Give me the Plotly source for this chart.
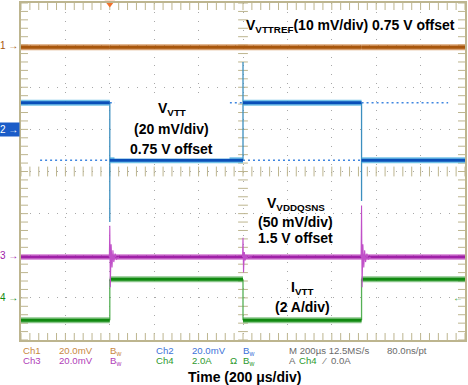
import numpy as np
import plotly.graph_objects as go

# ---- data (time in divisions of 200 us, amplitude in screen divisions) ----
seg_start = [0.0, 2.0, 5.0, 7.67]
seg_end = [2.0, 5.0, 7.67, 10.0]
edge_t = [2.0, 5.0, 7.67]

ch1_level = [2.95, 2.95, 2.95, 2.95]
ch2_level = [1.63, 0.27, 1.63, 0.27]
ch3_level = [-2.03, -2.03, -2.03, -2.03]
ch4_level = [-3.53, -2.56, -3.53, -2.56]

ch2_ref_start = [0.43, 2.0, 5.0, 7.67]
ch2_ref_end = [2.0, 5.0, 7.67, 9.62]
ch2_ref_level = [0.27, 1.63, 0.27, 1.63]

ch2_edge_top = [1.63, 2.6, 1.63]
ch2_edge_bot = [-1.2, 0.27, -0.7]
ch4_edge_top = [-2.56, -2.56, -2.56]
ch4_edge_bot = [-3.53, -3.53, -3.53]

ring_dt = [-0.01, 0.0, 0.012, 0.03, 0.05, 0.07, 0.09, 0.12, 0.15, 0.2]
ch3_ring = [
    [0, 0.74, -0.72, 0.30, -0.25, 0.16, -0.12, 0.08, -0.05, 0],
    [0, 0.46, -0.37, 0.12, -0.08, 0.05, -0.03, 0.02, 0.0, 0],
    [0, 1.22, -0.72, 0.30, -0.25, 0.16, -0.12, 0.08, -0.05, 0],
]

marker_level = [3.0, 1.0, -2.0, -3.0]
trigger_t = 2.0
trigger_level = -3.0

TAN = "#bdb58f"
ORANGE = "#a8560c"
BLUE = "#0a4fb8"
MAGENTA = "#a020a8"
GREEN = "#118a11"


def segments(starts, ends, levels):
    xs, ys = [], []
    for a, b, v in zip(starts, ends, levels):
        xs += [a, b, None]
        ys += [v, v, None]
    return xs, ys


def edges(ts, tops, bots):
    xs, ys = [], []
    for t, a, b in zip(ts, tops, bots):
        xs += [t, t, None]
        ys += [a, b, None]
    return xs, ys


fig = go.Figure()

# graticule tick rows
xm = np.round(np.arange(0, 10.0001, 0.2), 3)
ym = np.round(np.arange(-4, 4.0001, 0.2), 3)
tick = dict(color=TAN, line=dict(color=TAN, width=1))
fig.add_trace(go.Scatter(x=xm, y=[0] * len(xm), mode="markers",
                         marker=dict(symbol="line-ns", size=7, **tick), hoverinfo="skip"))
fig.add_trace(go.Scatter(x=[5] * len(ym), y=ym, mode="markers",
                         marker=dict(symbol="line-ew", size=7, **tick), hoverinfo="skip"))
for yy in (4, -4):
    fig.add_trace(go.Scatter(x=xm, y=[yy] * len(xm), mode="markers",
                             marker=dict(symbol="line-ns", size=10, **tick), hoverinfo="skip"))
for xx in (0, 10):
    fig.add_trace(go.Scatter(x=[xx] * len(ym), y=ym, mode="markers",
                             marker=dict(symbol="line-ew", size=10, **tick), hoverinfo="skip"))

# Ch2 dotted reference
rx, ry = segments(ch2_ref_start, ch2_ref_end, ch2_ref_level)
fig.add_trace(go.Scatter(x=rx, y=ry, mode="lines",
                         line=dict(color="#3f86e0", width=1.5, dash="2px,3px"), hoverinfo="skip"))


def add_channel(levels, color, fuzz):
    x, y = segments(seg_start, seg_end, levels)
    fig.add_trace(go.Scatter(x=x, y=y, mode="lines", line=dict(color=fuzz, width=6),
                             hoverinfo="skip"))
    fig.add_trace(go.Scatter(x=x, y=y, mode="lines", line=dict(color=color, width=3),
                             hoverinfo="skip"))


# Ch1
add_channel(ch1_level, ORANGE, "rgba(200,120,50,0.7)")

# Ch2
ex, ey = edges(edge_t, ch2_edge_top, ch2_edge_bot)
fig.add_trace(go.Scatter(x=ex, y=ey, mode="lines", line=dict(color="#3c8fbf", width=1.3),
                         hoverinfo="skip"))
add_channel(ch2_level, BLUE, "rgba(70,175,225,0.75)")

# Ch4
ex, ey = edges(edge_t, ch4_edge_top, ch4_edge_bot)
fig.add_trace(go.Scatter(x=ex, y=ey, mode="lines", line=dict(color="#55b055", width=1.3),
                         hoverinfo="skip"))
add_channel(ch4_level, GREEN, "rgba(60,160,60,0.6)")

# Ch3
add_channel(ch3_level, MAGENTA, "rgba(200,90,200,0.6)")
rxs, rys = [], []
for t, ring in zip(edge_t, ch3_ring):
    rxs += [t + d for d in ring_dt] + [None]
    rys += [ch3_level[0] + r for r in ring] + [None]
fig.add_trace(go.Scatter(x=rxs, y=rys, mode="lines", line=dict(color="#c050c8", width=1.1),
                         hoverinfo="skip"))

# trigger marker at top
fig.add_trace(go.Scatter(x=[trigger_t], y=[4], mode="markers", cliponaxis=False,
                         marker=dict(symbol="triangle-down", size=9, color="#f2712a"),
                         hoverinfo="skip"))

ann = []
BOLD = "Liberation Sans, Arial, sans-serif"


def txt(x, y, s, size=14, color="black", xanchor="center", xref="x", yref="y", **kw):
    ann.append(dict(x=x, y=y, xref=xref, yref=yref, text=s, showarrow=False,
                    xanchor=xanchor, yanchor="middle",
                    font=dict(family=BOLD, size=size, color=color), **kw))


# white box under V_VTT label
ann.append(dict(x=3.39, y=1.04, xref="x", yref="y", text=" ", showarrow=False,
                width=112, height=58, bgcolor="white", xanchor="center", yanchor="middle",
                font=dict(size=10)))

txt(5.02, 3.45, "<b>V<sub>VTTREF</sub>(10 mV/div) 0.75 V offset</b>", xanchor="left")
txt(3.39, 1.48, "<b>V<sub>VTT</sub></b>")
txt(3.39, 1.0, "<b>(20 mV/div)</b>")
txt(3.39, 0.53, "<b>0.75 V offset</b>")
txt(6.19, -0.76, "<b>V<sub>VDDQSNS</sub></b>")
txt(6.19, -1.19, "<b>(50 mV/div)</b>")
txt(6.19, -1.59, "<b>1.5 V offset</b>")
txt(6.33, -2.77, "<b>I<sub>VTT</sub></b>")
txt(6.33, -3.22, "<b>(2 A/div)</b>")

# channel ground markers
mk_colors = [ORANGE, "white", MAGENTA, GREEN]
for i, (lv, c) in enumerate(zip(marker_level, mk_colors)):
    extra = dict(bgcolor="#1a5cc8") if i == 1 else {}
    txt(-0.002, lv, f"{i + 1} →", size=10, color=c, xanchor="right", xref="paper", **extra)
txt(10, trigger_level, "←", size=10, color="#3aa03a", xanchor="right")


def px(p):
    return (p - 21) / 446


small = 9.6
r1, r2 = -0.0324, -0.062
C1, C2, C3, C4, GR = "#c8883f", "#3c72d8", "#b040b8", "#2e9a2e", "#6a6a6a"
row = [
    (21, r1, "Ch1", C1), (57, r1, "20.0mV", C1), (108, r1, "B<sub>w</sub>", C1),
    (155, r1, "Ch2", C2), (191, r1, "20.0mV", C2), (242, r1, "B<sub>w</sub>", C2),
    (288, r1, "M 200µs 12.5MS/s", GR), (387, r1, "80.0ns/pt", GR),
    (21, r2, "Ch3", C3), (57, r2, "20.0mV", C3), (108, r2, "B<sub>w</sub>", C3),
    (155, r2, "Ch4", C4), (191, r2, "2.0A", C4), (229, r2, "Ω", C4), (242, r2, "B<sub>w</sub>", C4),
    (288, r2, "A", GR), (298, r2, "Ch4", C4), (321, r2, "⁄  0.0A", GR),
]
for xp, yp, s, c in row:
    txt(px(xp), yp, s, size=small, color=c, xanchor="left", xref="paper", yref="paper")

txt(px(246), -0.109, "<b>Time (200 μs/div)</b>", size=14, xref="paper", yref="paper")

grid = dict(showgrid=True, gridcolor="#a8a8a8", gridwidth=1, griddash="1px,7.92px",
            zeroline=False, showticklabels=False, ticks="", showline=True, mirror=True,
            linecolor=TAN, linewidth=2, dtick=1, fixedrange=True)
fig.update_layout(
    width=468, height=385, margin=dict(l=21, r=1, t=1, b=45),
    paper_bgcolor="white", plot_bgcolor="white", showlegend=False,
    xaxis=dict(range=[0, 10], tick0=0, **grid),
    yaxis=dict(range=[-4, 4], tick0=0, **grid),
    annotations=ann,
)
fig.write_html("out.html", config={"displayModeBar": False},
               post_script="document.body.style.margin='0';document.body.style.overflow='hidden';")
